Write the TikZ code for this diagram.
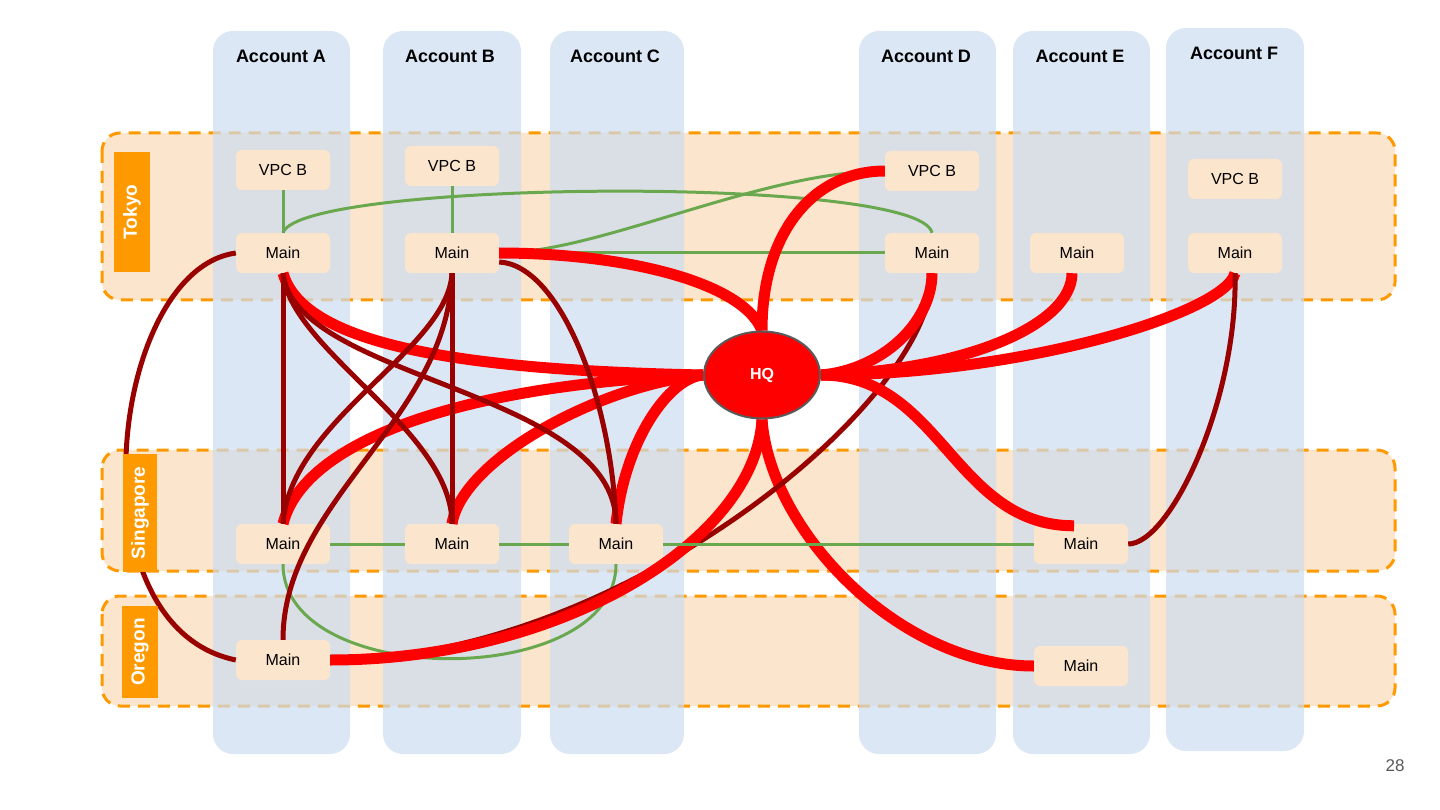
\documentclass[tikz,border=0pt]{standalone}
\usepackage{fontspec}
\setmainfont{Liberation Sans}
\usetikzlibrary{calc,shapes.geometric}
\definecolor{colblue}{RGB}{204,221,241}
\definecolor{regfill}{RGB}{252,229,205}
\definecolor{regborder}{RGB}{255,153,0}
\definecolor{nodefill}{RGB}{252,229,205}
\definecolor{linegreen}{RGB}{106,168,79}
\definecolor{lnkdark}{RGB}{153,0,0}
\definecolor{lnkred}{RGB}{255,0,0}
\definecolor{hqborder}{RGB}{90,90,90}
\definecolor{pagegray}{RGB}{89,89,89}
\pgfdeclarelayer{fg}
\pgfsetlayers{main,fg}
\begin{document}
\begin{tikzpicture}[x=1pt,y=-1pt,
  region/.style={fill=regfill, draw=regborder, line width=3pt, dash pattern=on 12pt off 8pt, rounded corners=18pt},
  reglabel/.style={fill=regborder, text=white, font=\bfseries\fontsize{19}{22}\selectfont, inner sep=0pt, rotate=90},
  column/.style={fill=colblue, fill opacity=0.7, rounded corners=20pt},
  header/.style={font=\bfseries\fontsize{18}{21}\selectfont, inner sep=0pt},
  nbox/.style={rectangle, rounded corners=6pt, fill=nodefill, minimum width=94pt, minimum height=40pt, inner sep=0pt, font=\fontsize{16}{19}\selectfont},
  gline/.style={draw=linegreen, line width=3pt},
  dline/.style={draw=lnkdark, line width=5pt},
  rline/.style={draw=lnkred, line width=11pt},
]
\useasboundingbox[fill=white] (0,0) rectangle (1440,810);

% regions
\path[region] (102,133) rectangle (1395,300);
\path[region] (102,450) rectangle (1395,571);
\path[region] (102,596) rectangle (1395,706);
\begin{pgfonlayer}{fg}
\node[reglabel, minimum width=120pt, minimum height=36pt] (lt) at (132,212) {Tokyo};
\node[reglabel, minimum width=118pt, minimum height=34pt] (ls) at (140,513) {Singapore};
\node[reglabel, minimum width=92pt, minimum height=36pt] (lo) at (140,652) {Oregon};
\end{pgfonlayer}

% account columns
\path[column] (213,31) rectangle (350,754);
\path[column] (383,31) rectangle (521,754);
\path[column] (550,31) rectangle (684,754);
\path[column] (859,31) rectangle (996,754);
\path[column] (1013,31) rectangle (1150,754);
\path[column] (1166,28) rectangle (1304,751);
\node[header] (ha) at (281,56) {Account A};
\node[header] (hb) at (450,56) {Account B};
\node[header] (hc) at (615,56) {Account C};
\node[header] (hd) at (926,56) {Account D};
\node[header] (he) at (1080,56) {Account E};
\node[header] (hf) at (1234,53) {Account F};

% VPC nodes
\node[nbox] (avpc) at (283,170) {VPC B};
\node[nbox] (am) at (283,253) {Main};
\node[nbox] (bvpc) at (452,166) {VPC B};
\node[nbox] (bm) at (452,253) {Main};
\node[nbox] (dvpc) at (932,171) {VPC B};
\node[nbox] (dm) at (932,253) {Main};
\node[nbox] (em) at (1077,253) {Main};
\node[nbox] (fvpc) at (1235,179) {VPC B};
\node[nbox] (fm) at (1235,253) {Main};
\node[nbox] (as) at (283,544) {Main};
\node[nbox] (bs) at (452,544) {Main};
\node[nbox] (cs) at (616,544) {Main};
\node[nbox] (es) at (1081,544) {Main};
\node[nbox] (ao) at (283,660) {Main};
\node[nbox] (eo) at (1081,666) {Main};

\begin{pgfonlayer}{fg}
\node[ellipse, fill=lnkred, draw=hqborder, line width=2pt, minimum width=116pt, minimum height=87pt, inner sep=0pt, text=white, font=\bfseries\fontsize{16}{19}\selectfont] (hq) at (762,375) {HQ};
\end{pgfonlayer}

% green (Tokyo, Oregon loop)
\draw[gline] (avpc.south) -- (am.north);
\draw[gline] (bvpc.south) -- (bm.north);
\draw[gline] (am.north) .. controls ($(am.north)+(17,-53)$) and ($(dm.north)+(-12,-58)$) .. (dm.north);
\draw[gline] (bm.east) -- (dm.west);
\draw[gline] (bm.east) .. controls ($(bm.east)+(101,0)$) and ($(dvpc.west)+(-125,0)$) .. (dvpc.west);
\draw[gline] (as.south) .. controls ($(as.south)+(0,126)$) and ($(cs.south)+(0,126)$) .. (cs.south);

% red and dark red
\draw[rline] (hq.south) .. controls ($(hq.south)+(8,112)$) and ($(eo.west)+(-134,0)$) .. (eo.west);
\draw[dline] (dm.south) .. controls ($(dm.south)+(3,127)$) and ($(ao.east)+(290,0)$) .. (ao.east);
\draw[rline] (hq.south) .. controls ($(hq.south)+(-7,122)$) and ($(ao.east)+(230,0)$) .. (ao.east);
\draw[rline] (hq.west) .. controls ($(hq.west)+(-250,-5)$) and ($(am.south)+(20,70)$) .. (am.south);
\draw[rline] (hq.west) .. controls ($(hq.west)+(-250,10)$) and ($(as.north)+(20,-80)$) .. (as.north);
\draw[rline] (hq.west) .. controls ($(hq.west)+(-104,10)$) and ($(bs.north)+(10,-64)$) .. (bs.north);
\draw[rline] (hq.west) .. controls ($(hq.west)+(-34,3)$) and ($(cs.north)+(9,-84)$) .. (cs.north);
\draw[rline] (hq.north) .. controls ($(hq.north)+(-20,-50)$) and ($(bm.east)+(120,0)$) .. (bm.east);
\draw[rline] (hq.north) .. controls ($(hq.north)+(0,-100)$) and ($(dvpc.west)+(-70,0)$) .. (dvpc.west);
\draw[rline] (hq.east) .. controls ($(hq.east)+(60,-5)$) and ($(dm.south)+(0,50)$) .. (dm.south);
\coordinate (emend) at ($(em.south)+(-5,0)$);
\draw[rline] (hq.east) .. controls ($(hq.east)+(150,-5)$) and ($(emend)+(0,50)$) .. (emend);
\draw[rline] (hq.east) .. controls ($(hq.east)+(200,0)$) and ($(fm.south)+(-10,40)$) .. (fm.south);
\coordinate (esend) at ($(es.north)+(-7,2)$);
\draw[rline] (hq.east) .. controls ($(hq.east)+(120,0)$) and ($(esend)+(-120,0)$) .. (esend);

\draw[dline] (am.west) .. controls ($(am.west)+(-126,17)$) and ($(ao.west)+(-166,-34)$) .. (ao.west);
\draw[dline] (am.south) -- (as.north);
\draw[dline] (am.south) .. controls ($(am.south)+(7,77)$) and ($(bs.north)+(0,-94)$) .. (bs.north);
\draw[dline] (am.south) .. controls ($(am.south)+(12,107)$) and ($(cs.north)+(0,-134)$) .. (cs.north);
\draw[dline] (bm.south) .. controls ($(bm.south)+(-4,77)$) and ($(as.north)+(7,-104)$) .. (as.north);
\draw[dline] (bm.south) .. controls ($(bm.south)+(-4,147)$) and ($(ao.north)+(0,-140)$) .. (ao.north);
\draw[dline] (bm.south) -- (bs.north);
\coordinate (bmr) at ($(bm.east)+(0,9)$);
\draw[dline] (bmr) .. controls ($(bmr)+(61,3)$) and ($(cs.north)+(-4,-124)$) .. (cs.north);
\draw[dline] (fm.south) .. controls ($(fm.south)+(3,127)$) and ($(es.east)+(42,0)$) .. (es.east);

% green (Singapore)
\draw[gline] (as.east) -- (bs.west);
\draw[gline] (bs.east) -- (cs.west);
\draw[gline] (cs.east) -- (es.west);

\node[font=\fontsize{17}{20}\selectfont, text=pagegray] (pg) at (1395,766) {28};
\end{tikzpicture}
\end{document}
